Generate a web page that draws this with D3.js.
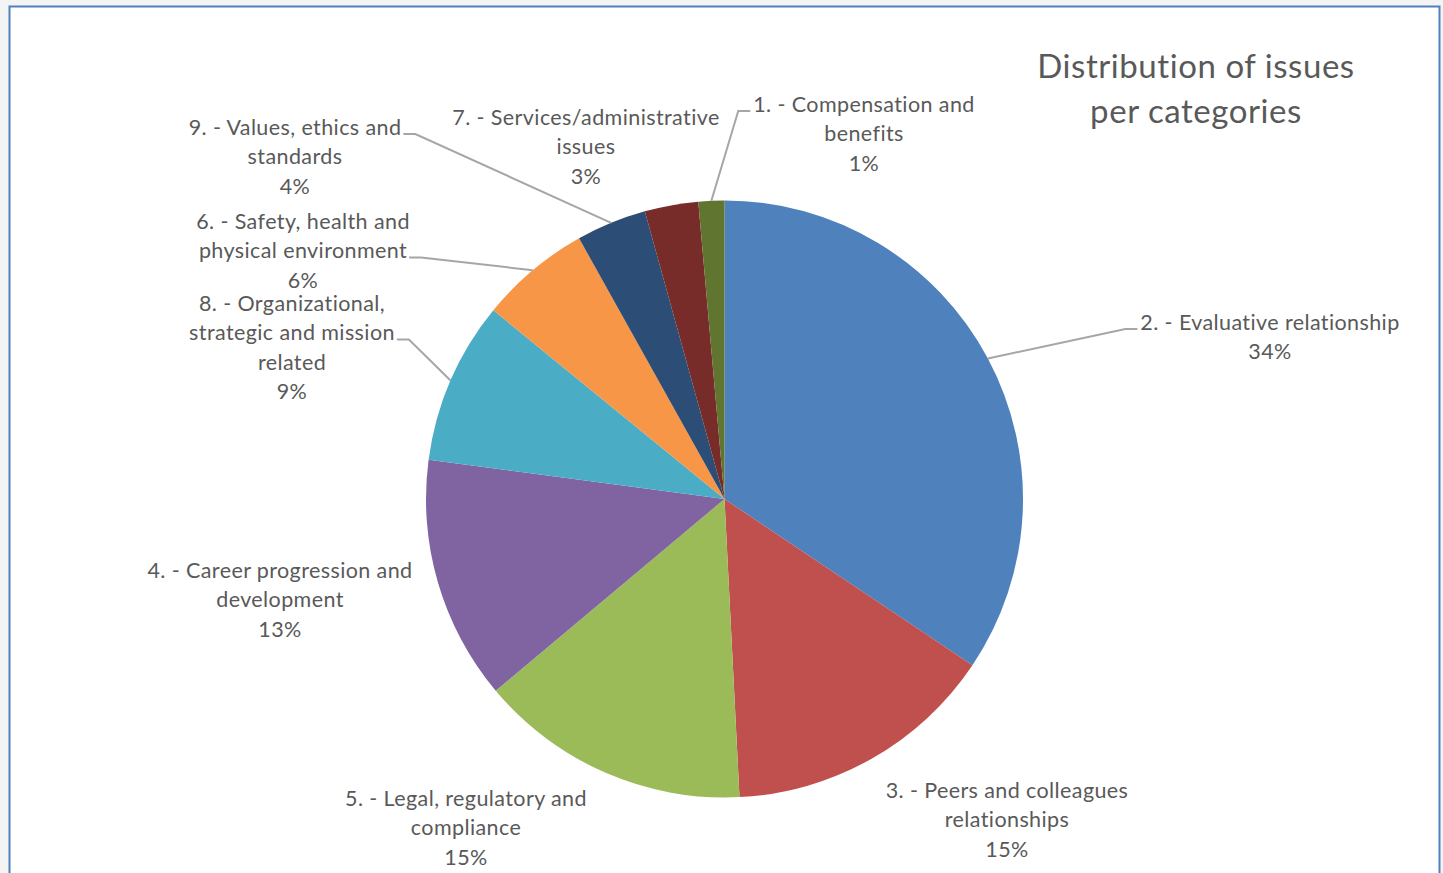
<!DOCTYPE html>
<html><head><meta charset="utf-8">
<script src="https://cdn.jsdelivr.net/npm/d3@7"></script>
<style>html,body{margin:0;padding:0;background:#fff;}svg{display:block;}</style>
</head><body>
<svg id="c" width="1443" height="873"></svg>
<script>
// Data (in pie order, clockwise from 12 o'clock)
const categories = [
  "2. - Evaluative relationship",
  "3. - Peers and colleagues relationships",
  "5. - Legal, regulatory and compliance",
  "4. - Career progression and development",
  "8. - Organizational, strategic and mission related",
  "6. - Safety, health and physical environment",
  "9. - Values, ethics and standards",
  "7. - Services/administrative issues",
  "1. - Compensation and benefits"
];
const values = [34.4, 14.8, 14.7, 13.2, 8.8, 6.0, 3.8, 2.9, 1.4];
const colors = ["#4F81BD","#C0504D","#9BBB59","#8064A2","#4BACC6","#F79646","#2C4D75","#772C2A","#5F7530"];
const labelLines = [
  ["2. - Evaluative relationship"],
  ["3. - Peers and colleagues","relationships"],
  ["5. - Legal, regulatory and","compliance"],
  ["4. - Career progression and","development"],
  ["8. - Organizational,","strategic and mission","related"],
  ["6. - Safety, health and","physical environment"],
  ["9. - Values, ethics and","standards"],
  ["7. - Services/administrative","issues"],
  ["1. - Compensation and","benefits"]
];
const titleLines = ["Distribution of issues","per categories"];

// Layout (label block centre x, first line centre y, leader anchor line index or null, side)
const labelLayout = [
  {x:1270, y:322, anchor:0, side:"left"},
  {x:1007, y:790, anchor:null},
  {x:466,  y:798, anchor:null},
  {x:280,  y:570, anchor:null},
  {x:292,  y:303, anchor:1, side:"right"},
  {x:303,  y:221, anchor:1, side:"right"},
  {x:295,  y:127, anchor:0, side:"right"},
  {x:586,  y:117, anchor:null},
  {x:864,  y:104, anchor:0, side:"left"}
];

const svg = d3.select("#c");
const W = 1443, H = 873;
const cx = 724.5, cy = 499, R = 298.5;
const lineH = 29.5;
const font = "Lato, 'Open Sans', sans-serif";
const textColor = "#595959";

// frame
svg.append("rect").attr("x",0).attr("y",0).attr("width",W).attr("height",H).attr("fill","#f4f4f4");
svg.append("rect").attr("x",9.5).attr("y",6.5).attr("width",1430).attr("height",880)
  .attr("fill","#fff").attr("stroke","#4F81BD").attr("stroke-width",2);

const g = svg.append("g").attr("transform",`translate(${cx},${cy})`);
const pie = d3.pie().sort(null).value(d=>d)(values);
const arc = d3.arc().innerRadius(0).outerRadius(R);
const edge = d3.arc().innerRadius(R).outerRadius(R);

g.selectAll("path.slice").data(pie).join("path").attr("class","slice")
  .attr("d",arc).attr("fill",(d,i)=>colors[i]);

const total = d3.sum(values);
const fmt = v => Math.round(v/total*100) + "%";

// labels
const lg = svg.append("g");
pie.forEach((d,i)=>{
  const L = labelLayout[i];
  const lines = labelLines[i].concat([fmt(values[i])]);
  const texts = lines.map((t,k)=> lg.append("text")
    .attr("x",L.x).attr("y",L.y + k*lineH).attr("dy","0.35em")
    .attr("text-anchor","middle").attr("font-family",font).attr("font-size",21.5)
    .attr("letter-spacing",0.4)
    .attr("fill",textColor).text(t));
  if (L.anchor !== null) {
    const bb = texts[L.anchor].node().getBBox();
    const ay = L.y + L.anchor*lineH + 7;
    const [px,py] = edge.centroid(d);
    let x1, x2;
    if (L.side === "right") { x1 = bb.x + bb.width + 2; x2 = x1 + 12; }
    else { x1 = bb.x - 3; x2 = x1 - 12; }
    lg.append("polyline")
      .attr("points",[[x1,ay],[x2,ay],[cx+px,cy+py]].map(p=>p.join(",")).join(" "))
      .attr("fill","none").attr("stroke","#a6a6a6").attr("stroke-width",2);
  }
});

// title
titleLines.forEach((t,k)=>{
  svg.append("text").attr("x",1196).attr("y",66 + k*45).attr("dy","0.35em")
    .attr("text-anchor","middle").attr("font-family",font).attr("font-size",33)
    .attr("letter-spacing",0.55)
    .attr("fill",textColor).text(t);
});
</script>
</body></html>
